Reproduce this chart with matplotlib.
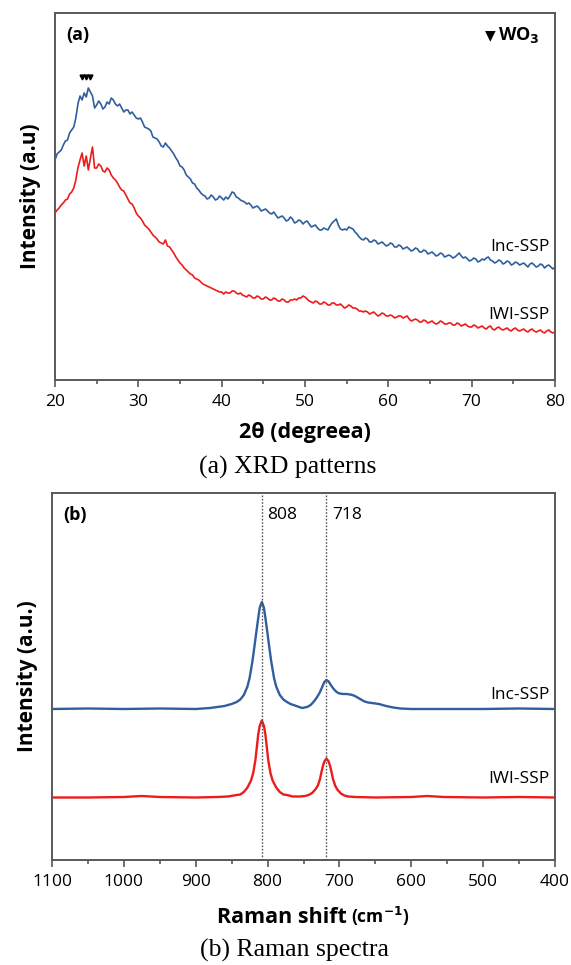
import numpy as np
import matplotlib
matplotlib.use("Agg")
import matplotlib.pyplot as plt
from matplotlib.ticker import MultipleLocator

# ---------------- data: XRD (2theta from 20 to 80 every 0.25 deg) ----------------
two_theta = np.linspace(20, 80, 241)
xrd_inc = [220, 226, 228, 230, 235, 239, 240, 247,
           250, 253, 262, 276, 284, 280, 287, 283,
           292, 288, 284, 272, 275, 279, 276, 271,
           273, 278, 276, 282, 280, 276, 274, 276,
           272, 268, 270, 270, 266, 268, 265, 262,
           261, 262, 258, 253, 252, 251, 249, 243,
           242, 241, 238, 234, 233, 237, 234, 232,
           229, 226, 222, 219, 214, 213, 210, 205,
           203, 201, 197, 196, 192, 190, 187, 185,
           184, 181, 182, 185, 183, 180, 181, 184,
           182, 180, 183, 181, 184, 188, 187, 183,
           182, 180, 179, 178, 176, 177, 175, 172,
           173, 174, 172, 169, 170, 171, 169, 167,
           166, 168, 165, 162, 163, 164, 162, 159,
           160, 163, 161, 157, 158, 160, 159, 156,
           158, 159, 156, 153, 154, 155, 152, 150,
           150, 152, 151, 150, 154, 157, 159, 161,
           155, 151, 150, 151, 150, 153, 152, 151,
           148, 146, 143, 141, 140, 142, 141, 138,
           138, 140, 139, 136, 137, 138, 136, 134,
           135, 137, 136, 133, 133, 135, 134, 131,
           132, 133, 131, 129, 130, 132, 131, 128,
           128, 130, 129, 126, 127, 128, 126, 124,
           125, 127, 126, 123, 124, 125, 124, 122,
           123, 125, 127, 124, 122, 123, 121, 119,
           120, 122, 121, 118, 119, 121, 120, 122,
           123, 120, 119, 117, 118, 120, 119, 116,
           117, 119, 118, 115, 116, 118, 117, 115,
           116, 117, 115, 113, 116, 117, 115, 113,
           114, 116, 115, 112, 114, 115, 113, 111,
           113]
xrd_iwi = [167, 170, 172, 175, 177, 180, 181, 186,
           188, 192, 200, 212, 220, 227, 214, 224,
           210, 222, 233, 212, 212, 216, 214, 209,
           208, 212, 210, 205, 202, 200, 197, 193,
           190, 189, 185, 181, 177, 176, 172, 167,
           164, 162, 159, 155, 153, 151, 148, 145,
           143, 141, 138, 137, 136, 140, 134, 133,
           130, 127, 123, 120, 117, 115, 112, 110,
           108, 106, 105, 102, 101, 100, 98, 96,
           95, 94, 93, 92, 91, 90, 89, 88,
           88, 86, 88, 87, 87, 89, 89, 87,
           86, 87, 85, 84, 83, 85, 84, 82,
           82, 84, 83, 81, 81, 83, 82, 80,
           80, 82, 81, 79, 79, 81, 80, 78,
           78, 80, 80, 81, 80, 82, 82, 84,
           83, 81, 79, 78, 77, 79, 78, 76,
           76, 78, 77, 75, 75, 77, 77, 75,
           75, 76, 74, 72, 73, 75, 74, 72,
           72, 71, 69, 69, 68, 69, 68, 66,
           67, 68, 66, 64, 65, 67, 66, 64,
           64, 65, 64, 62, 63, 64, 64, 62,
           63, 64, 61, 59, 60, 61, 60, 58,
           58, 60, 59, 57, 58, 59, 57, 56,
           57, 59, 58, 56, 56, 57, 57, 55,
           55, 57, 56, 54, 55, 56, 54, 53,
           53, 55, 54, 52, 53, 54, 52, 51,
           53, 54, 51, 50, 52, 53, 51, 50,
           51, 52, 50, 49, 51, 52, 50, 49,
           50, 51, 49, 48, 50, 51, 49, 48,
           49, 50, 48, 47, 49, 50, 48, 47,
           48]
wo3_peaks = [23.2, 23.7, 24.2]
wo3_marker_level = 303

# ---------------- data: Raman ----------------
raman_inc_x = [1100, 1050, 1000, 950, 900, 880, 870, 860, 850, 843, 838, 833, 828, 825,
               821, 818, 816, 813, 811, 808, 805, 803, 800, 798, 795, 791, 788, 783,
               778, 773, 768, 760, 752, 745, 740, 735, 731, 727, 724, 721, 718, 715,
               712, 708, 704, 700, 695, 690, 685, 680, 676, 670, 665, 660, 655, 650,
               645, 640, 635, 625, 615, 600, 550, 500, 450, 400]
raman_inc_y = [151, 151.5, 151, 151.5, 151, 152, 153, 154, 156, 158, 160.5, 165, 173.5, 182,
               199, 215, 226, 242, 252, 258, 252, 242, 226, 215, 199, 182, 173.5, 165,
               160.5, 158, 156, 154, 152, 153, 155, 159, 163, 168, 173, 178, 180, 178.5,
               175, 171, 168, 166.5, 166, 166, 165.5, 164.5, 163, 160.5, 158.5, 157.5, 157, 156.5,
               156, 155, 154, 152.5, 151.5, 151, 151, 151, 151.5, 151]
raman_iwi_x = [1100, 1050, 1000, 975, 950, 900, 870, 855, 843, 838, 833, 828, 823, 820,
               817, 815, 813, 811, 808, 805, 803, 801, 799, 796, 793, 788, 783, 778,
               773, 765, 755, 748, 743, 738, 733, 730, 727, 725, 723, 721, 718, 715,
               713, 711, 709, 706, 703, 698, 693, 688, 678, 650, 600, 578, 555, 500,
               450, 400]
raman_iwi_y = [62.5, 62.5, 63, 64, 63, 62.5, 63, 63.5, 65, 65.5, 68, 72.5, 79.5, 87,
               99.5, 112.5, 125.5, 134, 139.5, 134, 125.5, 112.5, 99.5, 87, 79.5, 72.5, 68, 65.5,
               65, 63.5, 63.5, 64, 65, 67, 71, 74.5, 81, 88, 94, 98.5, 101.5, 98.5,
               94, 88, 81, 74.5, 70.5, 66.5, 64.5, 63.5, 63, 62.5, 63, 64, 63, 62.5,
               63, 62.5]
raman_marks = [808, 718]

BLUE = '#2f5f9c'
RED = '#ee1b1b'
SPINE = '#595959'
SANS = ['Open Sans', 'DejaVu Sans']

plt.rcParams['font.family'] = SANS

fig = plt.figure(figsize=(5.71, 9.65), dpi=100)

def style_axes(ax):
    for s in ax.spines.values():
        s.set_color(SPINE)
        s.set_linewidth(1.4)
    ax.tick_params(axis='x', which='major', direction='out', length=5, width=1.2,
                   color=SPINE, labelsize=12.5, pad=5)
    ax.tick_params(axis='x', which='minor', direction='out', length=3, width=1.2, color=SPINE)
    ax.set_yticks([])

# ---- panel (a) ----
ax1 = fig.add_axes([55/571, 1-380/965, 500/571, 367/965])
ax1.plot(two_theta, xrd_inc, color=BLUE, lw=1.2)
ax1.plot(two_theta, xrd_iwi, color=RED, lw=1.2)
ax1.plot(wo3_peaks, [wo3_marker_level]*3, linestyle='none', marker='v', ms=3.5, color='black')
ax1.set_xlim(20, 80)
ax1.set_ylim(0, 367)
ax1.xaxis.set_major_locator(MultipleLocator(10))
ax1.xaxis.set_minor_locator(MultipleLocator(5))
style_axes(ax1)
ax1.set_xlabel('2θ (degreea)', fontsize=15.5, fontweight='bold', labelpad=9)
ax1.set_ylabel('Intensity (a.u)', fontsize=15, fontweight='bold', labelpad=10)
ax1.text(0.022, 0.94, '(a)', transform=ax1.transAxes, fontsize=13, fontweight='bold', va='center')
ax1.text(0.86, 0.94, '▼', transform=ax1.transAxes, fontsize=10, va='center', family='DejaVu Sans')
ax1.text(0.885, 0.94, 'WO$_\\mathbf{3}$', transform=ax1.transAxes, fontsize=13, fontweight='bold', va='center')
ax1.text(0.99, 0.363, 'Inc-SSP', transform=ax1.transAxes, fontsize=12.5, ha='right', va='center')
ax1.text(0.99, 0.177, 'IWI-SSP', transform=ax1.transAxes, fontsize=12.5, ha='right', va='center')
fig.text(288/571, 1-467/965, '(a) XRD patterns', ha='center', va='center',
         fontsize=18.5, family='Liberation Serif')

# ---- panel (b) ----
ax2 = fig.add_axes([52/571, 1-860/965, 503/571, 367/965])
ax2.plot(raman_inc_x, raman_inc_y, color=BLUE, lw=1.7)
ax2.plot(raman_iwi_x, raman_iwi_y, color=RED, lw=1.7)
for m in raman_marks:
    ax2.axvline(m, color='#555555', lw=1.0, ls=(0, (1.2, 1.2)))
ax2.set_xlim(1100, 400)
ax2.set_ylim(0, 367)
ax2.xaxis.set_major_locator(MultipleLocator(100))
ax2.xaxis.set_minor_locator(MultipleLocator(50))
style_axes(ax2)
ax2.set_ylabel('Intensity (a.u.)', fontsize=15, fontweight='bold', labelpad=10)
fig.text(347/571, 1-923/965, 'Raman shift', ha='right', va='baseline',
         fontsize=15.5, fontweight='bold')
fig.text(351/571, 1-923/965, '(cm$^{\\mathbf{-1}}$)', ha='left', va='baseline',
         fontsize=12.5, fontweight='bold')
ax2.text(0.022, 0.94, '(b)', transform=ax2.transAxes, fontsize=13, fontweight='bold', va='center')
ax2.text(800, 0.94*367, '808', fontsize=12.5, va='center', ha='left')
ax2.text(710, 0.94*367, '718', fontsize=12.5, va='center', ha='left')
ax2.text(0.99, 0.45, 'Inc-SSP', transform=ax2.transAxes, fontsize=12.5, ha='right', va='center')
ax2.text(0.99, 0.22, 'IWI-SSP', transform=ax2.transAxes, fontsize=12.5, ha='right', va='center')
fig.text(294/571, 1-950/965, '(b) Raman spectra', ha='center', va='center',
         fontsize=18.5, family='Liberation Serif')

fig.savefig('out.png', dpi=100)
